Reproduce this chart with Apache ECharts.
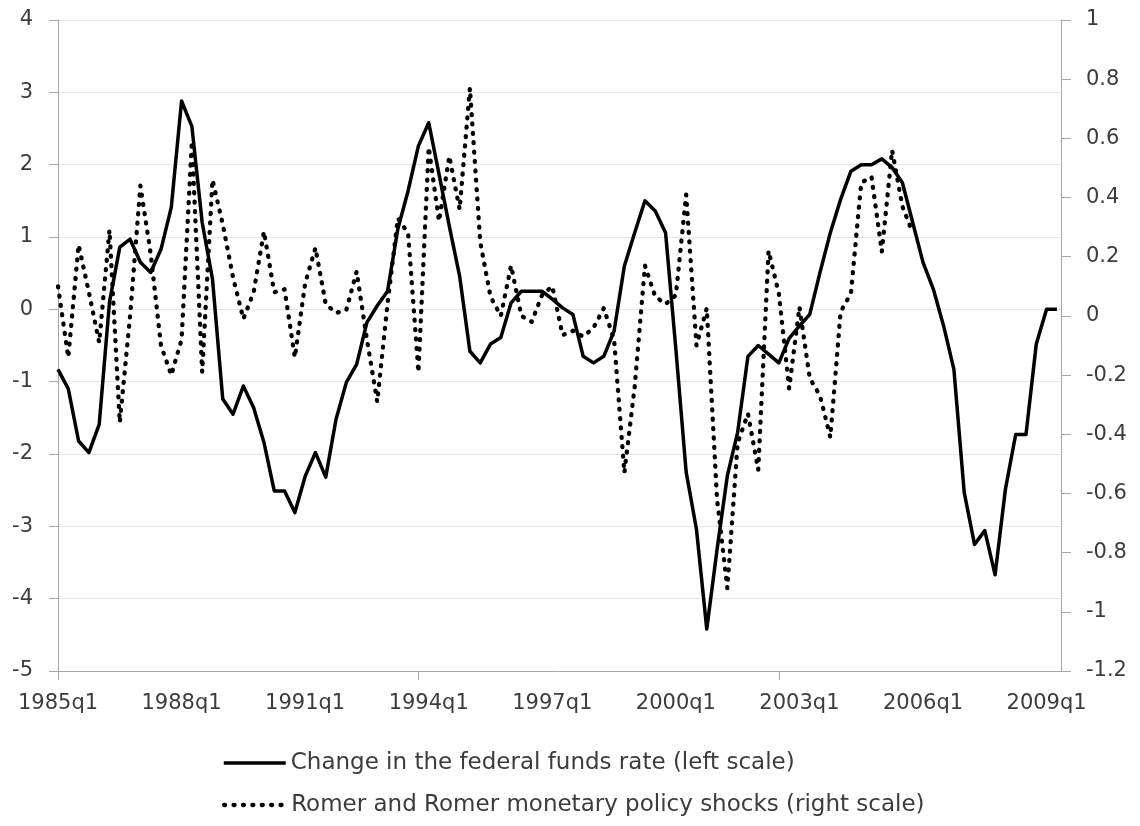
<!DOCTYPE html>
<html>
<head>
<meta charset="utf-8">
<script src="https://cdn.jsdelivr.net/npm/echarts@6/dist/echarts.min.js"></script>
<style>
html,body{margin:0;padding:0;background:#fff;}
#chart{width:1140px;height:826px;}
</style>
</head>
<body>
<div id="chart"></div>
<script>
// Quarter index 0 = 1985q1 ... 97 = 2009q2
const tickLabels = ['1985q1','1988q1','1991q1','1994q1','1997q1','2000q1','2003q1','2006q1','2009q1'];
const labelIndex = [0,12,24,36,48,60,72,84,96];
const tickMarkIndex = [0,35,70];

// Change in the federal funds rate (left scale), 1985q1 - 2009q2
const fedFundsChange = [
 -0.83,-1.10,-1.82,-1.98,-1.59, 0.10, 0.86, 0.97, 0.65, 0.51,
  0.83, 1.41, 2.88, 2.53, 1.20, 0.42,-1.24,-1.45,-1.06,-1.36,
 -1.84,-2.51,-2.51,-2.81,-2.31,-1.98,-2.32,-1.52,-1.01,-0.76,
 -0.18, 0.05, 0.25, 1.11, 1.64, 2.26, 2.58, 1.87, 1.15, 0.46,
 -0.58,-0.74,-0.48,-0.39, 0.09, 0.25, 0.25, 0.25, 0.14, 0.02,
 -0.07,-0.65,-0.74,-0.65,-0.30, 0.60, 1.06, 1.50, 1.36, 1.06,
 -0.55,-2.25,-3.04,-4.42,-3.32,-2.30,-1.70,-0.65,-0.50,-0.62,
 -0.74,-0.40,-0.23,-0.07, 0.51, 1.06, 1.52, 1.91, 2.00, 2.00,
  2.08, 1.96, 1.75, 1.20, 0.65, 0.28,-0.23,-0.83,-2.53,-3.25,
 -3.06,-3.67,-2.49,-1.73,-1.73,-0.48, 0.00, 0.00
];

// Romer and Romer monetary policy shocks (right scale), 1985q1 - 2005q4
const romerShocks = [
  0.10,-0.14, 0.24, 0.08,-0.09, 0.29,-0.36, 0.00, 0.44, 0.21,
 -0.10,-0.20,-0.08, 0.59,-0.19, 0.46, 0.31, 0.13,-0.01, 0.08,
  0.285,0.08, 0.09,-0.14, 0.11, 0.23, 0.04, 0.01, 0.02, 0.15,
 -0.08,-0.29, 0.04, 0.33, 0.28,-0.19, 0.57, 0.32, 0.54, 0.36,
  0.77, 0.25, 0.065,0.00, 0.17, 0.00,-0.02, 0.07, 0.10,-0.065,
 -0.05,-0.07,-0.04, 0.026,-0.08,-0.53,-0.24, 0.17, 0.065,0.04,
  0.07, 0.41,-0.10, 0.026,-0.62,-0.92,-0.43,-0.33,-0.52, 0.22,
  0.076,-0.245,0.03,-0.21,-0.27,-0.41, 0.014,0.076,0.45, 0.47,
  0.217,0.56, 0.37, 0.28
];

const seriesNames = [
  'Change in the federal funds rate (left scale)',
  'Romer and Romer monetary policy shocks (right scale)'
];

const FONT = "'DejaVu Sans', sans-serif";
const TXT = '#3c3c3c';
const AXIS = '#a6a6a6';
const SOLID_STYLE = {color: '#000', width: 3.5, join: 'round'};
const DOT_STYLE = {color: '#000', width: 4.3, type: [1, 8.4], cap: 'round', join: 'round'};

const solidData = fedFundsChange.map((v, i) => [i, v]);
const dotData = romerShocks.map((v, i) => [i, v]);
const labelMap = {};
labelIndex.forEach((idx, k) => { labelMap[idx] = tickLabels[k]; });

const legendCommon = {
  orient: 'horizontal', left: 222, padding: 0, itemWidth: 62, itemHeight: 14,
  selectedMode: false, itemStyle: {opacity: 0},
  textStyle: {fontFamily: FONT, fontSize: 23, color: TXT, lineHeight: 26}
};

const chart = echarts.init(document.getElementById('chart'), null, {renderer: 'canvas'});
chart.setOption({
  animation: false,
  backgroundColor: '#ffffff',
  textStyle: {fontFamily: FONT, color: TXT},
  grid: {left: 58, right: 79, top: 20, bottom: 155, containLabel: false},
  legend: [
    Object.assign({}, legendCommon, {data: [seriesNames[0]], top: 750,
      lineStyle: Object.assign({}, SOLID_STYLE)}),
    Object.assign({}, legendCommon, {data: [seriesNames[1]], top: 792,
      lineStyle: Object.assign({}, DOT_STYLE)})
  ],
  xAxis: {
    type: 'value', min: 0, max: 97.4,
    axisLine: {show: true, onZero: false, lineStyle: {color: AXIS, width: 1}},
    axisTick: {show: true, customValues: tickMarkIndex, length: 9, inside: false, lineStyle: {color: AXIS, width: 1}},
    axisLabel: {customValues: labelIndex, formatter: v => labelMap[v] || '', margin: 22,
      fontFamily: FONT, fontSize: 21, color: TXT},
    splitLine: {show: false}
  },
  yAxis: [
    {
      type: 'value', min: -5, max: 4, interval: 1, position: 'left',
      axisLine: {show: true, lineStyle: {color: AXIS, width: 1}},
      axisTick: {show: true, length: 9, lineStyle: {color: AXIS}},
      axisLabel: {margin: 25, fontFamily: FONT, fontSize: 21, color: TXT},
      splitLine: {show: true, lineStyle: {color: '#e6e6e6', width: 1}}
    },
    {
      type: 'value', min: -1.2, max: 1, interval: 0.2, position: 'right',
      axisLine: {show: true, lineStyle: {color: AXIS, width: 1}},
      axisTick: {show: true, length: 10, lineStyle: {color: AXIS}},
      axisLabel: {margin: 25, fontFamily: FONT, fontSize: 21, color: TXT,
        formatter: v => String(+v.toFixed(1))},
      splitLine: {show: false}
    }
  ],
  series: [
    {
      name: seriesNames[0], type: 'line', yAxisIndex: 0, data: solidData,
      symbol: 'none', smooth: false, z: 3,
      lineStyle: SOLID_STYLE,
      itemStyle: {color: '#000'}
    },
    {
      name: seriesNames[1], type: 'line', yAxisIndex: 1, data: dotData,
      symbol: 'none', smooth: false, z: 2,
      lineStyle: DOT_STYLE,
      itemStyle: {color: '#000'}
    }
  ]
});
</script>
</body>
</html>
